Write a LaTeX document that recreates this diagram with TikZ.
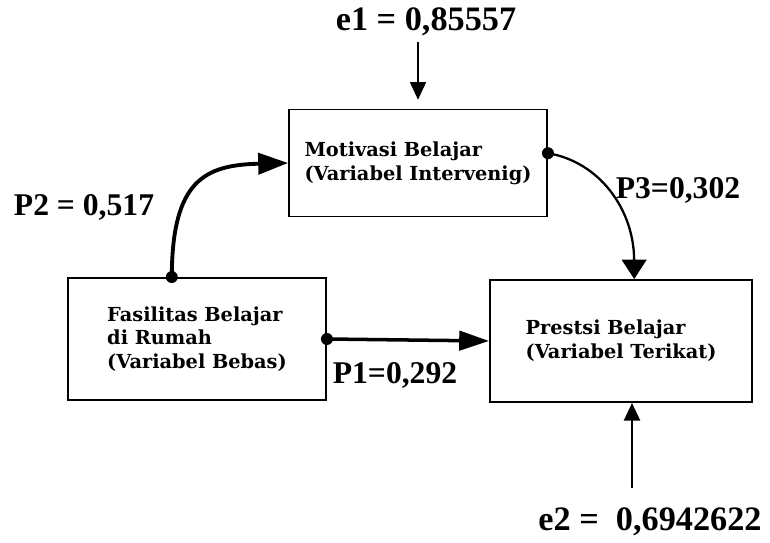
\documentclass[tikz,border=0pt]{standalone}
\usepackage{fontspec}
\setmainfont{Liberation Serif}
\newfontfamily\boxfont{DejaVu Serif}
\usetikzlibrary{positioning}
\usetikzlibrary{calc}
\usetikzlibrary{arrows.meta}

\begin{document}
\begin{tikzpicture}[x=0.02cm, y=-0.02cm, >={Triangle[length=10pt, width=9pt]},
    every node/.style={inner sep=1pt},
    varbox/.style={draw, line width=1.1pt, align=left, font=\boxfont\bfseries\fontsize{11}{13.5}\selectfont},
    coef/.style={font=\bfseries\fontsize{18}{20}\selectfont}]
      \useasboundingbox (0,0) rectangle (770,543);

      \node[varbox, minimum width=5.16cm, minimum height=2.14cm] at (418,163) (mot) {Motivasi Belajar\\(Variabel Intervenig)};
      \node[varbox, minimum width=5.16cm, minimum height=2.44cm] at (197,339) (fas) {Fasilitas Belajar\\di Rumah\\(Variabel Bebas)};
      \node[varbox, minimum width=5.24cm, minimum height=2.44cm] at (621,341) (pre) {Prestsi Belajar\\(Variabel Terikat)};

      \node[coef, font=\bfseries\fontsize{19.5}{21}\selectfont] at (426,22) (e1) {e1 = 0,85557};
      \node[coef, font=\bfseries\fontsize{19.5}{21}\selectfont] at (650,522) (e2) {e2 = \ 0,6942622};
      \node[coef] at (84,207) (p2) {P2 = 0,517};
      \node[coef] at (678,190) (p3) {P3=0,302};
      \node[coef] at (395,375) (p1) {P1=0,292};

      % dots where the paths leave a box
      \coordinate (fasN) at ($(fas.north west)!0.403!(fas.north east)$);
      \coordinate (motE) at ($(mot.north east)!0.41!(mot.south east)$);
      \coordinate (preN) at ($(pre.north west)!0.55!(pre.north east)$);
      \coordinate (e1S) at (418,42);
      \coordinate (e2S) at (632,488);
      \foreach \c in {fasN, motE}
      \fill (\c) circle (6);
      \fill (fas.east) circle (6);

      \draw[line width=2.2pt, ->, >={Triangle[length=17pt, width=12pt]}] (fasN) .. controls (172,180) and (205,165) .. (mot.west);
      \draw[line width=1.3pt, ->, >={Triangle[length=11pt, width=14pt]}] (motE) .. controls (600,162) and (634,210) .. (preN);
      \draw[line width=2pt, ->, >={Triangle[length=17pt, width=11pt]}] (fas.east) -- (pre.west);
      \draw[line width=1.2pt, ->, shorten >=5pt] (e1S) -- (e1S |- mot.north);
      \draw[line width=1.6pt, ->] (e2S) -- (e2S |- pre.south);
\end{tikzpicture}
\end{document}
